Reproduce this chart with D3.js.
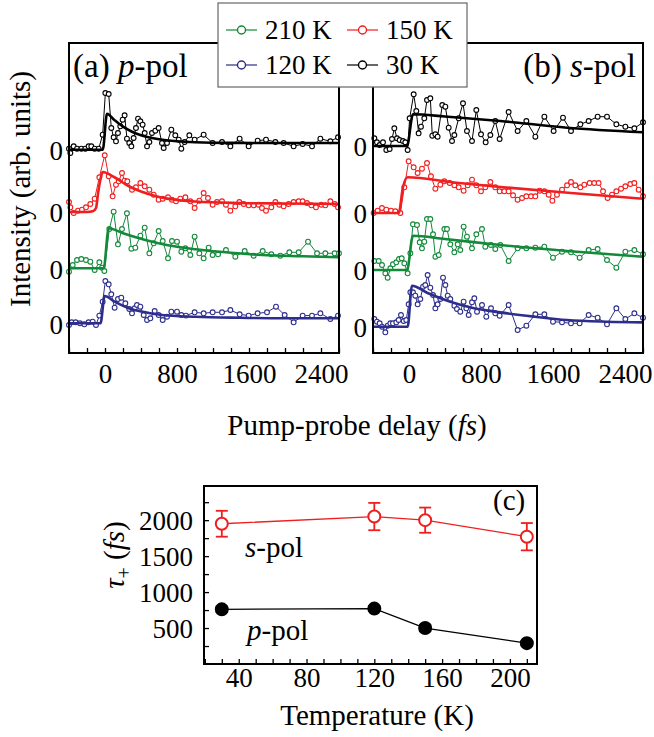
<!DOCTYPE html>
<html><head><meta charset="utf-8">
<script src="https://cdn.jsdelivr.net/npm/d3@7"></script>
<style>
body{margin:0;background:#fff}
svg text{font-family:"Liberation Serif","Times New Roman",serif;fill:#000}
</style>
</head><body>
<svg id="chart" width="654" height="737"></svg>
<script>
// ---------------- data ----------------
const delayTickLabels = [0, 800, 1600, 2400];
const legendLabels = ["210 K", "150 K", "120 K", "30 K"];

// (a) p-pol, pairs [delay fs, intensity arb.]
const pPol30K = [[-400,0.1],[-385,-0.33],[-348,0.34],[-311,0.1],[-263,0.1],[-219,0.1],[-182,0.34],[-152,0.34],[-115,0.1],[-70,0.1],[-26,1.5],[4,5.67],[41,5.57],[70,2.17],[96,1.24],[122,0.84],[144,1.67],[170,2.34],[196,3.0],[218,3.44],[244,1.1],[270,0.67],[293,0.34],[318,1.17],[344,2.17],[367,3.1],[393,2.84],[418,2.5],[441,1.67],[467,0.34],[493,0.77],[522,1.67],[559,1.9],[596,2.17],[633,0.67],[652,0.17],[689,0.67],[737,2.0],[781,1.44],[819,1.0],[848,0.1],[885,0.77],[937,1.44],[996,1.0],[1096,1.5],[1196,0.67],[1300,0.77],[1393,0.34],[1496,1.1],[1596,0.34],[1696,0.9],[1789,1.0],[1893,0.77],[1985,0.67],[2096,0.34],[2196,0.57],[2300,0.34],[2393,1.1],[2504,0.84],[2589,1.24]];
const pPol150K = [[-400,1.0],[-385,0.47],[-348,-0.1],[-300,0.13],[-256,0.23],[-211,0.47],[-163,0.8],[-115,1.33],[-63,3.47],[-3,5.67],[41,3.57],[85,1.57],[122,2.73],[152,3.07],[189,3.9],[218,3.13],[248,3.07],[300,2.23],[344,2.47],[393,2.9],[441,2.57],[493,2.23],[541,1.73],[596,1.23],[641,1.33],[700,1.47],[744,1.23],[789,1.07],[837,1.33],[893,1.47],[948,1.07],[996,0.4],[1048,1.13],[1096,1.9],[1144,1.4],[1196,0.73],[1244,1.0],[1300,1.07],[1344,0.73],[1393,0.13],[1448,0.57],[1493,1.0],[1541,0.8],[1596,0.67],[1652,0.67],[1707,0.73],[1744,0.4],[1789,0.13],[1848,0.47],[1893,1.0],[1937,0.73],[1985,0.57],[2041,0.8],[2096,1.0],[2152,1.07],[2196,1.07],[2244,0.9],[2293,0.67],[2344,0.47],[2404,0.73],[2448,0.67],[2504,1.07],[2552,0.8],[2589,0.47]];
const pPol210K = [[-400,-0.34],[-359,0.33],[-311,0.83],[-263,0.93],[-211,0.83],[-163,0.66],[-115,-0.17],[-63,0.6],[-33,0.06],[-7,-0.27],[48,3.93],[96,5.66],[144,2.4],[189,3.93],[244,5.5],[293,1.96],[337,2.06],[393,3.26],[441,4.06],[493,1.5],[541,2.5],[596,3.73],[641,2.73],[700,1.0],[744,2.73],[800,2.66],[848,1.66],[893,2.0],[948,1.33],[996,3.16],[1048,1.5],[1096,1.0],[1152,2.06],[1196,1.33],[1256,1.4],[1344,1.83],[1448,1.16],[1552,1.73],[1652,1.26],[1752,1.73],[1848,1.4],[1948,1.26],[2048,1.6],[2152,1.6],[2256,2.66],[2356,1.5],[2448,1.5],[2552,1.5],[2600,1.5]];
const pPol120K = [[-400,-0.17],[-370,0.1],[-326,0.1],[-278,0.0],[-230,-0.1],[-182,0.1],[-137,0.16],[-100,-0.17],[-63,0.77],[-26,2.16],[4,4.23],[41,3.9],[70,2.9],[107,1.56],[144,2.43],[181,2.56],[226,2.0],[270,1.43],[300,1.0],[330,1.5],[355,1.83],[393,1.66],[430,0.83],[467,0.33],[504,0.5],[552,1.23],[596,0.83],[641,0.33],[689,0.66],[737,1.16],[800,1.16],[848,0.83],[900,0.77],[996,1.1],[1096,1.0],[1196,1.1],[1300,1.1],[1393,1.33],[1496,0.9],[1596,0.77],[1696,1.0],[1800,1.1],[1900,1.66],[1996,0.83],[2096,0.1],[2196,0.77],[2300,0.77],[2393,1.0],[2504,0.43],[2589,0.77]];

// (b) s-pol
const sPol30K = [[-385,0.77],[-356,0.37],[-326,0.1],[-289,0.37],[-252,-0.4],[-215,-0.3],[-189,0.7],[-163,1.77],[-133,0.77],[-104,0.6],[-67,0.5],[-41,0.37],[-15,-0.4],[7,2.77],[52,5.17],[81,3.5],[107,1.27],[133,1.93],[170,2.77],[200,4.6],[237,4.77],[259,1.03],[293,1.17],[318,0.93],[370,4.1],[404,3.93],[441,1.83],[478,0.5],[504,1.1],[552,2.77],[600,4.27],[644,1.5],[700,0.5],[748,3.6],[800,1.17],[852,0.37],[904,1.1],[959,2.5],[1007,0.7],[1107,3.4],[1207,1.5],[1304,2.5],[1404,0.93],[1504,2.93],[1607,1.5],[1711,2.83],[1800,1.5],[1904,2.17],[1996,2.5],[2096,2.93],[2200,2.93],[2304,2.17],[2404,1.93],[2504,1.77],[2600,2.37]];
const sPol150K = [[-393,0],[-348,0.23],[-300,0.5],[-252,0.33],[-200,0.23],[-152,0.17],[-96,0],[-52,2.57],[-4,5.17],[52,4.57],[96,4.0],[144,4.43],[200,5.0],[244,3.67],[293,2.43],[348,2.83],[393,3.17],[452,3.0],[504,2.77],[552,2.57],[607,2.23],[652,2.77],[700,3.33],[748,2.77],[800,2.17],[848,2.57],[904,3.1],[959,2.57],[1007,2.17],[1059,2.17],[1107,2.17],[1156,1.77],[1207,1.33],[1256,1.5],[1304,1.67],[1356,1.67],[1404,1.67],[1452,2.23],[1504,2.17],[1552,1.83],[1593,1.23],[1644,1.83],[1700,2.33],[1756,2.77],[1800,3.1],[1848,2.77],[1904,2.57],[1948,2.83],[2007,3.0],[2059,3.0],[2107,3.0],[2156,2.17],[2207,1.5],[2256,1.83],[2304,2.17],[2356,2.43],[2404,2.67],[2459,2.9],[2504,3.0],[2552,2.33],[2600,1.67]];
const sPol210K = [[-385,0.9],[-337,0.9],[-300,0.5],[-263,-0.33],[-237,-0.77],[-207,0.17],[-178,0.57],[-141,0.77],[-111,1.1],[-81,1.17],[-52,0.67],[-15,-0.33],[15,1.67],[44,4.57],[89,4.5],[119,2.77],[144,2.17],[170,2.83],[200,5.1],[237,5.1],[267,3.57],[293,1.33],[330,1.5],[393,4.1],[422,4.1],[459,2.57],[504,1.77],[541,2.57],[570,2.0],[607,4.33],[644,3.33],[700,2.17],[748,3.57],[811,4.1],[848,2.33],[911,2.5],[959,2.1],[1015,2.5],[1107,0.9],[1207,2.17],[1304,2.17],[1404,2.23],[1504,2.33],[1600,1.23],[1700,1.83],[1800,1.77],[1896,1.23],[1996,2.0],[2096,2.1],[2200,1.0],[2304,0.23],[2404,1.83],[2504,2.0],[2600,1.57]];
const sPol120K = [[-385,0.77],[-356,0.5],[-326,0.34],[-300,0.0],[-263,-0.56],[-237,0.1],[-207,0.34],[-178,0.34],[-141,0.44],[-115,0.67],[-89,1.17],[-59,0.57],[-30,0.67],[-4,2.24],[15,3.44],[44,3.44],[70,3.1],[96,2.24],[126,2.77],[156,4.0],[181,4.17],[207,5.17],[237,3.9],[267,3.17],[293,1.84],[318,2.24],[348,2.77],[378,4.9],[404,4.17],[430,3.1],[459,2.77],[504,2.1],[533,1.77],[570,1.5],[607,2.5],[637,1.84],[663,1.17],[700,2.44],[726,2.84],[756,1.5],[811,2.17],[859,1.0],[911,1.84],[959,1.34],[1007,1.1],[1107,2.17],[1207,-0.33],[1304,0.1],[1404,1.24],[1504,1.24],[1600,0.5],[1700,0.44],[1800,0.34],[1896,0.34],[1996,1.17],[2096,0.9],[2200,0.24],[2304,1.84],[2404,0.77],[2504,1.34],[2600,0.9]];

// fitted curves
const pFit30K = [[-400,0],[-25,0],[22,3.6],[100,3.0],[200,2.3],[300,1.8],[400,1.45],[600,1.05],[800,0.85],[1000,0.75],[1400,0.68],[2000,0.67],[2600,0.67]];
const pFit150K = [[-400,0],[-200,0],[-130,0.1],[-100,0.4],[-75,2.0],[-45,3.5],[-25,4.0],[100,3.5],[260,2.6],[400,2.05],[560,1.6],[800,1.2],[1000,1.05],[1500,0.9],[2000,0.85],[2600,0.8]];
const pFit210K = [[-400,0],[-15,0],[41,4.0],[200,3.5],[448,2.83],[700,2.3],[1004,1.9],[1400,1.55],[1744,1.33],[2200,1.2],[2600,1.1]];
const pFit120K = [[-400,0],[-50,0],[-4,2.73],[100,2.2],[263,1.5],[450,1.1],[633,0.83],[1004,0.65],[1500,0.55],[2000,0.5],[2600,0.5]];
const sFit30K = [[-400,0],[-22,0],[44,3.17],[400,2.95],[1015,2.5],[1756,1.83],[2600,1.37]];
const sFit150K = [[-400,0],[-115,0],[-67,2.57],[-15,3.57],[500,3.05],[1015,2.6],[1800,2.0],[2600,1.43]];
const sFit210K = [[-400,0],[-22,0],[44,3.43],[400,3.1],[1015,2.5],[1756,1.9],[2600,1.33]];
const sFit120K = [[-400,0],[-15,0],[33,4.1],[200,3.4],[459,2.5],[700,1.9],[1015,1.43],[1400,1.0],[1756,0.67],[2200,0.5],[2600,0.43]];

// (c) decay time vs temperature
const temperatures = [30, 120, 150, 210];
const tauS = [1950, 2050, 2000, 1770];
const tauSErr = [180, 190, 175, 190];
const tauP = [760, 770, 500, 290];
const tauPErr = [40, 35, 45, 30];

// ---------------- drawing ----------------
const svg = d3.select("#chart");
const colors = {"210 K": "#13893a", "150 K": "#f01e1e", "120 K": "#2d2d8c", "30 K": "#000000"};

const yAB = d3.scaleLinear().domain([0, 31]).range([353, 43]);

const panels = [
  {
    x: d3.scaleLinear().domain([-400, 2600]).range([69, 339]),
    series: {"30 K": pPol30K, "150 K": pPol150K, "210 K": pPol210K, "120 K": pPol120K},
    fits: {"30 K": pFit30K, "150 K": pFit150K, "210 K": pFit210K, "120 K": pFit120K},
    offsets: {"30 K": 20.33, "150 K": 14.1, "210 K": 8.47, "120 K": 2.97},
    label: [["(a) ", "normal"], ["p", "italic"], ["-pol", "normal"]], lx: 73, anchor: "start"
  },
  {
    x: d3.scaleLinear().domain([-400, 2600]).range([373, 643]),
    series: {"30 K": sPol30K, "150 K": sPol150K, "210 K": sPol210K, "120 K": sPol120K},
    fits: {"30 K": sFit30K, "150 K": sFit150K, "210 K": sFit210K, "120 K": sFit120K},
    offsets: {"30 K": 20.7, "150 K": 14.0, "210 K": 8.3, "120 K": 2.63},
    label: [["(b) ", "normal"], ["s", "italic"], ["-pol", "normal"]], lx: 636, anchor: "end"
  }
];

panels.forEach(p => {
  const g = svg.append("g");
  const [xa, xb] = p.x.range();
  // bottom ticks + labels
  const ax = g.append("g").attr("transform", `translate(0,${yAB.range()[0]})`)
    .call(d3.axisBottom(p.x).tickValues(d3.range(-400, 2601, 200)).tickSize(-5)
      .tickFormat(d => delayTickLabels.includes(d) ? d : ""));
  ax.select(".domain").remove();
  ax.selectAll("line").attr("stroke", "#000").attr("stroke-width", 1.3);
  ax.selectAll("text").attr("y", 30).attr("dy", null).style("font-size", "27px");
  // zero labels
  const offs = Object.values(p.offsets);
  const ay = g.append("g").attr("transform", `translate(${xa},0)`)
    .call(d3.axisLeft(yAB).tickValues(offs).tickSize(0).tickPadding(6).tickFormat(() => "0"));
  ay.select(".domain").remove();
  ay.selectAll("text").attr("dy", "0.36em").style("font-size", "27px");

  ["120 K", "210 K", "150 K", "30 K"].forEach(k => {
    const off = p.offsets[k], c = colors[k];
    const line = d3.line().x(d => p.x(d[0])).y(d => yAB(off + d[1]));
    g.append("path").datum(p.series[k]).attr("d", line)
      .attr("fill", "none").attr("stroke", c).attr("stroke-width", 1);
    g.selectAll(null).data(p.series[k]).enter().append("circle")
      .attr("cx", d => p.x(d[0])).attr("cy", d => yAB(off + d[1])).attr("r", 2.4)
      .attr("fill", "#fff").attr("stroke", c).attr("stroke-width", 1.1);
    g.append("path").datum(p.fits[k]).attr("d", line.curve(d3.curveMonotoneX))
      .attr("fill", "none").attr("stroke", c).attr("stroke-width", 2.6);
  });
  // frame
  g.append("rect").attr("x", xa).attr("y", yAB.range()[1]).attr("width", xb - xa)
    .attr("height", yAB.range()[0] - yAB.range()[1]).attr("fill", "none")
    .attr("stroke", "#000").attr("stroke-width", 2);
  // panel label
  const t = g.append("text").attr("x", p.lx).attr("y", 77).attr("text-anchor", p.anchor)
    .style("font-size", "33px");
  p.label.forEach(([s, st]) => t.append("tspan").text(s).style("font-style", st));
});

// axis titles for top panels
svg.append("text").attr("transform", "translate(30,189) rotate(-90)")
  .attr("text-anchor", "middle").style("font-size", "29px").text("Intensity (arb. units)");
const xt = svg.append("text").attr("x", 357).attr("y", 435).attr("text-anchor", "middle")
  .style("font-size", "29px");
xt.append("tspan").text("Pump-probe delay (");
xt.append("tspan").text("fs").style("font-style", "italic");
xt.append("tspan").text(")");

// legend
const lg = svg.append("g");
lg.append("rect").attr("x", 218).attr("y", 3).attr("width", 249).attr("height", 84)
  .attr("fill", "#fff").attr("stroke", "#666").attr("stroke-width", 1.2);
const legendPos = {"210 K": [226, 30], "150 K": [347, 30], "120 K": [226, 65], "30 K": [347, 65]};
legendLabels.forEach(k => {
  const [lx, ly] = legendPos[k], c = colors[k];
  lg.append("line").attr("x1", lx).attr("x2", lx + 31).attr("y1", ly).attr("y2", ly)
    .attr("stroke", c).attr("stroke-width", 1.2);
  lg.append("circle").attr("cx", lx + 15.5).attr("cy", ly).attr("r", 4)
    .attr("fill", "#fff").attr("stroke", c).attr("stroke-width", 1.4);
  lg.append("text").attr("x", lx + 39).attr("y", ly + 9).style("font-size", "27px").text(k);
});

// ---------------- panel (c) ----------------
const xC = d3.scaleLinear().domain([19.5, 216]).range([204, 537]);
const yC = d3.scaleLinear().domain([0, 2475]).range([664, 486]);
const gc = svg.append("g");
const axC = gc.append("g").attr("transform", `translate(0,${yC.range()[0]})`)
  .call(d3.axisBottom(xC).tickValues(d3.range(20, 211, 10)).tickSize(-5)
    .tickFormat(d => d % 40 === 0 ? d : ""));
axC.select(".domain").remove();
axC.selectAll("line").attr("stroke-width", 1.3);
axC.selectAll("text").attr("y", 23).attr("dy", null).style("font-size", "27px");
const ayC = gc.append("g").attr("transform", `translate(${xC.range()[0]},0)`)
  .call(d3.axisLeft(yC).tickValues(d3.range(250, 2251, 250)).tickSize(-5).tickPadding(11)
    .tickFormat(d => d % 500 === 0 ? d : ""));
ayC.select(".domain").remove();
ayC.selectAll("line").attr("stroke-width", 1.3);
ayC.selectAll("text").attr("x", -11).attr("dy", "0.36em").style("font-size", "27px");

function series(vals, errs, color, filled) {
  const pts = temperatures.map((T, i) => ({T, v: vals[i], e: errs[i]}));
  gc.append("path").datum(pts)
    .attr("d", d3.line().x(d => xC(d.T)).y(d => yC(d.v)))
    .attr("fill", "none").attr("stroke", color).attr("stroke-width", 1.3);
  const eg = gc.selectAll(null).data(pts).enter().append("g").attr("stroke", color).attr("stroke-width", 1.8);
  eg.append("line").attr("x1", d => xC(d.T)).attr("x2", d => xC(d.T))
    .attr("y1", d => yC(d.v - d.e)).attr("y2", d => yC(d.v + d.e));
  [1, -1].forEach(s => eg.append("line").attr("x1", d => xC(d.T) - 6).attr("x2", d => xC(d.T) + 6)
    .attr("y1", d => yC(d.v + s * d.e)).attr("y2", d => yC(d.v + s * d.e)));
  gc.selectAll(null).data(pts).enter().append("circle")
    .attr("cx", d => xC(d.T)).attr("cy", d => yC(d.v)).attr("r", 6)
    .attr("fill", filled ? color : "#fff").attr("stroke", color).attr("stroke-width", 2);
}
series(tauS, tauSErr, "#f01e1e", false);
series(tauP, tauPErr, "#000", true);

gc.append("rect").attr("x", xC.range()[0]).attr("y", yC.range()[1])
  .attr("width", xC.range()[1] - xC.range()[0]).attr("height", yC.range()[0] - yC.range()[1])
  .attr("fill", "none").attr("stroke", "#000").attr("stroke-width", 2);

const sl = gc.append("text").attr("x", 245).attr("y", 557).style("font-size", "29px");
sl.append("tspan").text("s").style("font-style", "italic");
sl.append("tspan").text("-pol");
const pl = gc.append("text").attr("x", 247).attr("y", 640).style("font-size", "29px");
pl.append("tspan").text("p").style("font-style", "italic");
pl.append("tspan").text("-pol");
gc.append("text").attr("x", 493).attr("y", 510).style("font-size", "29px").text("(c)");

svg.append("text").attr("x", 377).attr("y", 725).attr("text-anchor", "middle")
  .style("font-size", "29px").text("Temperature (K)");
const yl = svg.append("text").attr("transform", "translate(124,555) rotate(-90)")
  .attr("text-anchor", "middle").style("font-size", "29px");
yl.append("tspan").text("τ").style("font-style", "italic");
yl.append("tspan").text("+").attr("dy", 7).style("font-size", "20px");
yl.append("tspan").text(" (").attr("dy", -7);
yl.append("tspan").text("fs").style("font-style", "italic");
yl.append("tspan").text(")");
</script>
</body></html>
